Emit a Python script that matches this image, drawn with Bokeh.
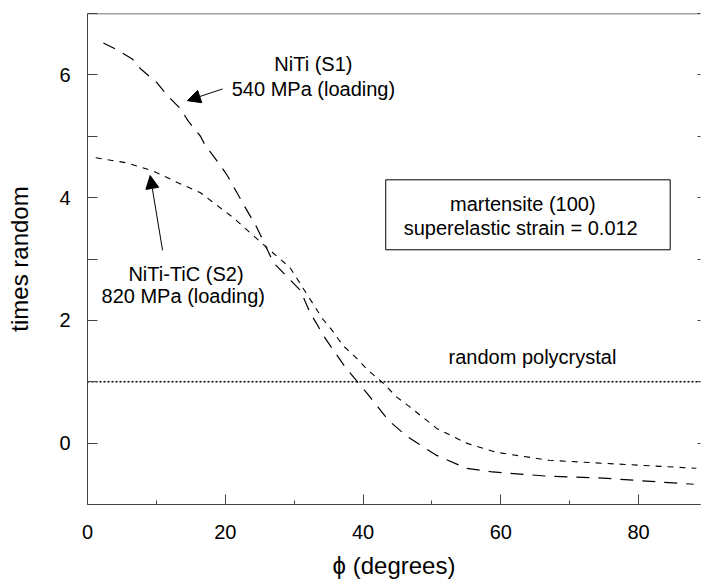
from bokeh.plotting import figure
from bokeh.models import (Range1d, FixedTicker, LinearAxis, Arrow, NormalHead,
                          BoxAnnotation, Span)
from bokeh.core.properties import value
from bokeh.embed import file_html
from bokeh.resources import INLINE

# ---- data ----
s1_phi = [2.3, 4.1, 6.5, 7.7, 10.1, 11.6, 13.5, 14.6, 16.4, 17.1, 19.0, 20.3, 22.6, 24.6,
          27.0, 30.9, 32.3, 34.5, 37.4, 40.6, 43.7, 46.5, 50.7, 55.0, 58.8, 67.0, 74.8,
          82.6, 88.0]
s1_val = [6.52, 6.42, 6.26, 6.10, 5.87, 5.66, 5.45, 5.25, 5.00, 4.85, 4.57, 4.36, 3.90, 3.51,
          2.94, 2.49, 2.13, 1.71, 1.24, 0.81, 0.37, 0.10, -0.20, -0.41, -0.47, -0.54, -0.57,
          -0.63, -0.67]

s2_phi = [1.2, 5.5, 9.4, 13.2, 16.4, 21.2, 26.0, 29.4, 34.1, 35.5, 37.1, 39.1, 40.7, 42.9,
          44.9, 46.8, 50.7, 55.0, 59.4, 67.0, 76.8, 88.4]
s2_val = [4.65, 4.57, 4.44, 4.24, 4.08, 3.67, 3.19, 2.86, 2.03, 1.84, 1.59, 1.38, 1.19, 0.98,
          0.75, 0.59, 0.24, 0.00, -0.15, -0.28, -0.34, -0.41]

random_phi = [0, 89]
random_val = [1, 1]

x_ticks = [0, 20, 40, 60, 80]
x_minor = [10, 30, 50, 70]
y_ticks = [0, 2, 4, 6]
y_minor = [-1, 1, 3, 5, 7]
y_top = 7

FONT = "Liberation Sans"
AX = "#444444"

p = figure(width=701, height=581, output_backend="svg", toolbar_location=None, title=None,
           x_range=Range1d(0, 89), y_range=Range1d(-1, y_top),
           min_border_left=87, min_border_right=1, min_border_top=13, min_border_bottom=77)
p.outline_line_color = None
p.xgrid.visible = False
p.ygrid.visible = False
p.background_fill_color = "white"
p.border_fill_color = "white"

# curves
p.line(s1_phi, s1_val, line_color="black", line_width=1.2, line_dash="13 9")
p.line(s2_phi, s2_val, line_color="black", line_width=1.1, line_dash="6 6")
p.line(random_phi, random_val, line_color="black", line_width=1.3, line_dash="2 2")

def style_ticks(ax, ticks, minor, minor_len):
    ax.ticker = FixedTicker(ticks=ticks, minor_ticks=minor)
    ax.major_tick_in = 10
    ax.major_tick_out = 0
    ax.minor_tick_in = minor_len
    ax.minor_tick_out = 0
    ax.major_tick_line_color = AX
    ax.minor_tick_line_color = AX
    ax.axis_line_color = AX
    ax.major_label_text_font = FONT
    ax.major_label_text_color = "black"
    ax.major_label_text_font_size = "20px"
    ax.axis_label_text_font = FONT
    ax.axis_label_text_font_size = "24px"
    ax.axis_label_text_font_style = "normal"
    ax.axis_label_text_color = "black"

xa = p.xaxis[0]
style_ticks(xa, x_ticks, x_minor, 4)
xa.major_label_standoff = 20
xa.axis_label = "ϕ (degrees)"
xa.axis_label_standoff = 10

ya = p.yaxis[0]
style_ticks(ya, y_ticks, y_minor, 10)
ya.major_label_standoff = 17
ya.axis_label = "times random"
ya.axis_label_standoff = 23

# top frame line
p.add_layout(Span(location=y_top, dimension="width", line_color=AX, line_width=1.5))

# mirrored tick marks (no labels) on the right
right_ax = LinearAxis(ticker=FixedTicker(ticks=[], minor_ticks=y_ticks + y_minor),
                      minor_tick_in=3, minor_tick_out=0, major_tick_in=0, major_tick_out=1,
                      minor_tick_line_color=AX, axis_line_color=None, major_label_standoff=0)
p.add_layout(right_ax, "right")

# annotations
def label(x, y, t):
    p.text(x=[x], y=[y], text=[t], text_font=value(FONT), text_font_size="20px",
           text_align="center", text_baseline="middle", text_color="black")

label(32.8, 6.18, "NiTi (S1)")
label(32.8, 5.77, "540 MPa (loading)")
label(14.3, 2.76, "NiTi-TiC (S2)")
label(13.9, 2.40, "820 MPa (loading)")
label(64.6, 1.40, "random polycrystal")
label(63.2, 3.90, "martensite (100)")
label(62.9, 3.51, "superelastic strain = 0.012")

p.add_layout(BoxAnnotation(left=43.3, right=84.6, bottom=3.15, top=4.29,
                           fill_alpha=0, line_color="black", line_alpha=1, line_width=1))

p.add_layout(Arrow(end=NormalHead(size=13, fill_color="black", line_color="black"),
                   x_start=19.6, y_start=5.77, x_end=14.5, y_end=5.58,
                   line_color="black", line_width=1))
p.add_layout(Arrow(end=NormalHead(size=13, fill_color="black", line_color="black"),
                   x_start=10.9, y_start=3.14, x_end=9.1, y_end=4.36,
                   line_color="black", line_width=1))

open("out.html", "w").write(file_html(p, INLINE))
